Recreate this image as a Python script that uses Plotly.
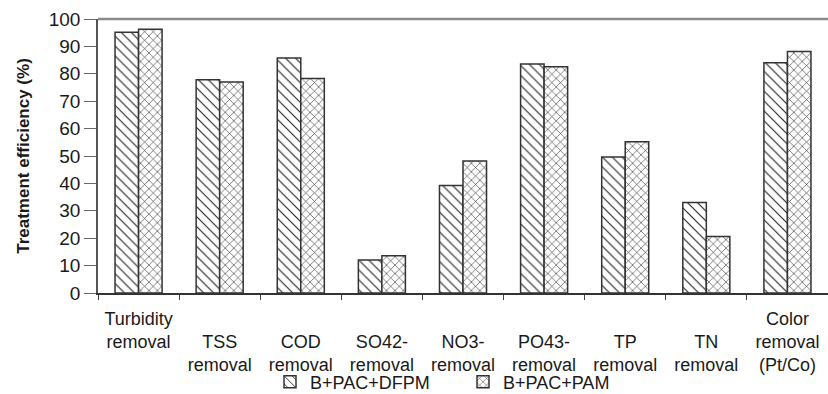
import plotly.graph_objects as go

# Removal efficiency per parameter for the two coagulant/flocculant combinations
categories = [
    ["Turbidity", "removal", ""],
    ["", "TSS", "removal"],
    ["", "COD", "removal"],
    ["", "SO42-", "removal"],
    ["", "NO3-", "removal"],
    ["", "PO43-", "removal"],
    ["", "TP", "removal"],
    ["", "TN", "removal"],
    ["Color", "removal", "(Pt/Co)"],
]
series_names = ["B+PAC+DFPM", "B+PAC+PAM"]
dfpm_values = [95.2, 77.8, 85.8, 12.0, 39.2, 83.6, 49.6, 33.0, 84.0]
pam_values = [96.3, 77.0, 78.3, 13.6, 48.2, 82.6, 55.2, 20.6, 88.1]
y_ticks = list(range(0, 101, 10))

x_keys = [" ".join(w for w in c if w) for c in categories]
tick_text = ["<br>".join(c) for c in categories]

FONT = "Liberation Sans, Arial, sans-serif"

fig = go.Figure()
fig.add_trace(go.Bar(
    name=series_names[0], x=x_keys, y=dfpm_values,
    marker=dict(
        color="white",
        line=dict(color="#333333", width=1.5),
        pattern=dict(shape="\\", fgcolor="#222222", bgcolor="white",
                     size=7, solidity=0.16, fillmode="replace"),
    ),
))
fig.add_trace(go.Bar(
    name=series_names[1], x=x_keys, y=pam_values,
    marker=dict(
        color="white",
        line=dict(color="#333333", width=1.5),
        pattern=dict(shape="x", fgcolor="#222222", bgcolor="white",
                     size=6, solidity=0.18, fillmode="replace"),
    ),
))

fig.update_layout(
    width=828, height=394,
    margin=dict(l=98, r=0, t=19, b=101, autoexpand=False),
    paper_bgcolor="white", plot_bgcolor="white",
    barmode="group", bargap=0.42, bargroupgap=0,
    font=dict(family=FONT, size=18, color="#1a1a1a"),
    showlegend=True,
    legend=dict(
        orientation="h", x=0.5, xanchor="center", y=-0.325, yanchor="middle",
        font=dict(size=18), itemwidth=30,
        entrywidthmode="pixels", entrywidth=148,
        bgcolor="rgba(0,0,0,0)",
    ),
    xaxis=dict(
        tickmode="array", tickvals=x_keys, ticktext=tick_text,
        tickson="boundaries", ticks="outside", ticklen=5, tickwidth=1,
        tickcolor="#444444", ticklabelstandoff=8,
        showline=True, linecolor="#333333", linewidth=2,
        showgrid=False, tickangle=0, automargin=False,
        tickfont=dict(size=18, family=FONT, color="#1a1a1a"),
    ),
    yaxis=dict(
        range=[0, 100], tickmode="array", tickvals=y_ticks,
        ticks="outside", ticklen=12, tickwidth=1, tickcolor="#666666",
        showline=True, linecolor="#555555", linewidth=1.5,
        showgrid=False, zeroline=False, automargin=False,
        tickfont=dict(size=19, family=FONT, color="#1a1a1a"),
        title=dict(text="<b>Treatment efficiency (%)</b>",
                   font=dict(size=17, family=FONT, color="#1a1a1a"),
                   standoff=15),
    ),
    shapes=[dict(type="line", xref="paper", yref="paper",
                 x0=0, x1=1, y0=1, y1=1,
                 line=dict(color="#8a8a8a", width=2.5))],
)

fig.write_html("out.html")
